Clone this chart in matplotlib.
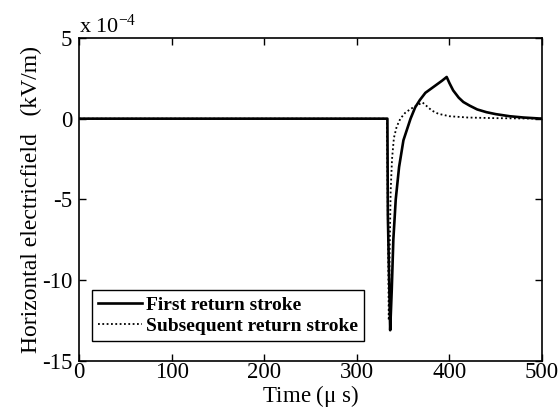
import matplotlib
matplotlib.use('Agg')
import matplotlib.pyplot as plt

# horizontal electric field, units of 1e-4 kV/m
t_first = [0, 333, 333.5, 336, 337.7, 339.4, 342, 345.6, 350.3, 358, 363, 368, 374, 380,
           386, 392, 397, 400, 404, 410, 415, 422, 430, 440, 450, 465, 480, 500]
e_first = [0, 0, -6, -13.1, -10.6, -7.5, -5.0, -3.0, -1.34, 0, 0.7, 1.15, 1.6, 1.85,
           2.1, 2.35, 2.58, 2.2, 1.75, 1.3, 1.03, 0.8, 0.57, 0.4, 0.28, 0.15, 0.07, 0]

t_sub = [0, 332.5, 334.5, 335.5, 336.5, 338, 340, 343, 347, 352, 358, 364, 371, 376,
         381, 388, 400, 420, 450, 500]
e_sub = [0, 0, -12.5, -8, -4.5, -2.5, -1.2, -0.5, 0, 0.35, 0.6, 0.8, 1.0, 0.75,
         0.5, 0.3, 0.15, 0.07, 0.03, 0]

xticks = [0, 100, 200, 300, 400, 500]
yticks = [-15, -10, -5, 0, 5]

plt.rcParams['font.family'] = ['Liberation Serif', 'DejaVu Serif']
plt.rcParams['mathtext.default'] = 'regular'
plt.rcParams['axes.unicode_minus'] = False

fig = plt.figure(figsize=(5.6, 4.12), dpi=100)
ax = fig.add_axes([0.141, 0.124, 0.827, 0.784])

ax.plot(t_first, e_first, color='black', lw=1.9, label='First return stroke')
ax.plot(t_sub, e_sub, color='black', lw=1.3, linestyle=(0, (1, 1.4)),
        label='Subsequent return stroke')

ax.set_xlim(0, 500)
ax.set_ylim(-15, 5)
ax.set_xticks(xticks)
ax.set_yticks(yticks)
ax.tick_params(direction='in', top=True, right=True, length=5, width=1,
               labelsize=16.5)
ax.tick_params(axis='x', pad=1)
ax.tick_params(axis='y', pad=5)
for s in ax.spines.values():
    s.set_linewidth(1.2)

ax.set_xlabel('Time ($\\mu$ s)', fontsize=16.5, labelpad=0)
ax.set_ylabel('Horizontal electricfield   (kV/m)', fontsize=17, labelpad=0)
ax.text(0.0, 1.0, 'x 10$^{-4}$', transform=ax.transAxes, fontsize=16,
        ha='left', va='bottom')

leg = ax.legend(loc='lower left', bbox_to_anchor=(0.028, 0.062), borderaxespad=0,
                fancybox=False, edgecolor='black', framealpha=1,
                prop={'weight': 'bold', 'size': 14}, handlelength=2.3,
                handletextpad=0.2, borderpad=0.3, labelspacing=0.2)
leg.get_frame().set_linewidth(1.0)

fig.savefig('out.png', dpi=100)
